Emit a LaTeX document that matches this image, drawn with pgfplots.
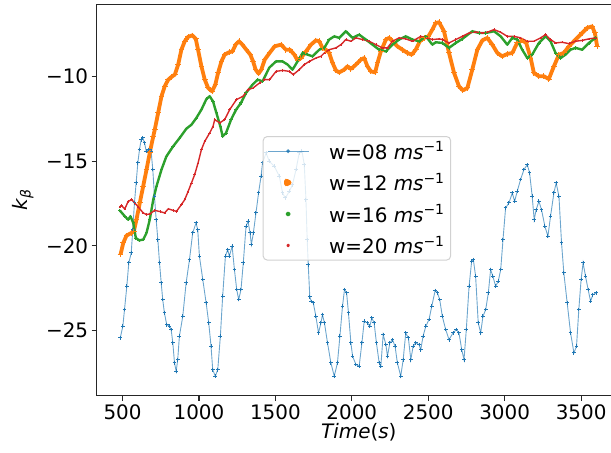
\documentclass[border=0pt]{standalone}
\usepackage{fontspec}
\setmainfont{DejaVu Sans}
\usepackage{pgfplots}
\pgfplotsset{compat=1.18}
\definecolor{c0}{HTML}{1F77B4}
\definecolor{c1}{HTML}{FF7F0E}
\definecolor{c2}{HTML}{2CA02C}
\definecolor{c3}{HTML}{D62728}
\newcommand{\bigfont}{\fontsize{20}{24}\selectfont}

\begin{document}
\begin{tikzpicture}
\begin{axis}[
  scale only axis, width=524.3bp, height=391bp,
  xmin=331, xmax=3761, ymin=-28.85, ymax=-5.75,
  xtick={500,1000,1500,2000,2500,3000,3500},
  xticklabels={500,1000,1500,2000,2500,3000,3500},
  ytick={-25,-20,-15,-10},
  yticklabels={−25,−20,−15,−10},
  tick pos=left, tick align=outside,
  major tick length=5bp,
  every tick/.style={black!85, line width=1.1bp},
  axis line style={black!85, line width=1.1bp},
  font=\bigfont,
  xlabel={\textit{Time}(\textit{s})},
  ylabel={\textit{k}\textsubscript{\textit{β}}},
  xlabel style={at={(axis description cs:0.5,0)}, yshift=-37bp, anchor=center},
  ylabel style={at={(axis description cs:-0.1411,0.5)}, anchor=center},
  legend cell align=left,
  legend style={at={(0.3166,0.664)}, anchor=north west, draw=black!18,
    line width=1bp, rounded corners=4bp, fill=white, fill opacity=0.8, text opacity=1,
    inner xsep=4bp, inner ysep=3bp, row sep=8.3bp, font=\bigfont,
    /tikz/every odd column/.append style={column sep=18bp}},
]
\coordinate (bl) at (rel axis cs:0,0);
\coordinate (tl) at (rel axis cs:0,1);

% w = 08
\addplot[c0, draw opacity=0.65, line width=0.9bp, mark=+, mark size=1.9bp,
  mark options={draw opacity=1, line width=1bp},
  legend image code/.code={
    \draw[c0, draw opacity=0.65, line width=0.9bp] (0bp,0bp) -- (41bp,0bp);
    \fill[c0] (20.5bp,0bp) circle (1.5bp);}]
coordinates {
(485,-25.44)(502,-24.75)(513,-23.76)(528,-22.39)(541,-21.00)(557,-20.41)
(567,-19.04)(578,-17.46)(589,-16.28)(600,-15.10)(611,-14.31)(622,-13.72)
(633,-13.62)(644,-13.92)(655,-14.41)(672,-14.31)(687,-14.41)(698,-15.49)
(709,-17.07)(720,-18.45)(731,-19.63)(742,-21.00)(753,-22.19)(763,-23.17)
(774,-23.96)(789,-24.65)(807,-24.75)(818,-24.94)(829,-25.73)(840,-26.91)
(851,-27.41)(861,-26.72)(872,-25.34)(894,-24.16)(916,-22.19)(938,-20.81)
(959,-19.23)(981,-18.64)(992,-19.04)(1003,-20.61)(1025,-21.99)(1047,-23.37)
(1064,-24.55)(1079,-25.93)(1090,-27.31)(1107,-27.70)(1123,-27.31)(1140,-25.34)
(1155,-22.98)(1173,-20.61)(1188,-20.22)(1199,-20.61)(1217,-20.02)(1232,-21.40)
(1247,-22.58)(1260,-23.17)(1275,-22.58)(1290,-21.00)(1308,-18.84)(1321,-18.55)
(1334,-19.23)(1343,-19.92)(1356,-19.23)(1373,-18.05)(1390,-16.87)(1406,-15.89)
(1416,-15.10)(1439,-14.51)(1460,-15.00)(1493,-15.30)(1526,-15.89)(1547,-16.87)
(1565,-17.17)(1591,-16.78)(1612,-16.38)(1635,-15.49)(1656,-14.51)(1674,-14.41)
(1689,-15.20)(1700,-17.27)(1708,-19.63)(1715,-21.11)(1725,-23.00)(1735,-23.29)
(1748,-23.37)(1765,-24.16)(1782,-25.14)(1798,-24.55)(1808,-24.06)(1821,-24.55)
(1841,-25.73)(1863,-26.91)(1885,-27.70)(1906,-26.91)(1922,-25.34)(1939,-23.57)
(1952,-22.58)(1966,-22.78)(1978,-23.96)(1994,-25.73)(2005,-26.52)(2027,-27.01)
(2048,-27.11)(2066,-25.73)(2081,-24.45)(2102,-24.55)(2118,-24.75)(2131,-24.25)
(2146,-24.55)(2161,-25.73)(2179,-26.91)(2190,-27.11)(2205,-25.24)(2223,-25.83)
(2233,-26.52)(2249,-25.73)(2266,-25.54)(2283,-25.93)(2298,-26.91)(2320,-27.70)
(2336,-26.72)(2353,-25.14)(2370,-25.44)(2386,-26.72)(2401,-25.93)(2418,-25.73)
(2440,-25.83)(2451,-26.13)(2466,-25.34)(2484,-24.75)(2505,-24.35)(2523,-23.57)
(2545,-22.64)(2560,-22.78)(2575,-23.17)(2592,-24.16)(2614,-24.94)(2636,-25.54)
(2662,-25.14)(2684,-24.94)(2701,-25.14)(2719,-26.13)(2734,-26.72)(2749,-24.94)
(2767,-22.39)(2784,-20.91)(2795,-20.81)(2810,-21.80)(2827,-24.55)(2843,-25.14)
(2858,-24.16)(2876,-23.76)(2893,-22.78)(2908,-21.40)(2923,-21.80)(2941,-22.39)
(2958,-22.09)(2974,-21.40)(2989,-19.63)(3006,-17.76)(3028,-17.46)(3050,-16.87)
(3065,-17.37)(3082,-16.78)(3104,-16.08)(3126,-15.49)(3148,-15.20)(3163,-15.69)
(3180,-17.07)(3193,-18.45)(3206,-17.86)(3224,-17.37)(3241,-17.86)(3263,-18.84)
(3283,-19.43)(3300,-18.25)(3322,-16.87)(3337,-16.28)(3355,-17.07)(3372,-19.82)
(3387,-21.60)(3409,-23.37)(3431,-25.14)(3453,-26.32)(3470,-25.93)(3485,-23.76)
(3500,-21.99)(3513,-21.00)(3529,-21.80)(3546,-22.58)(3562,-23.27)(3577,-22.88)
(3598,-22.78)
};
\addlegendentry{w=08 \textit{ms}\textsuperscript{−1}}

% w = 12
\addplot[c1, line width=3.8bp, line join=round, mark=+, mark size=2.8bp,
  mark options={line width=1bp},
  legend image code/.code={
    \fill[c1] (18.5bp,-2bp) -- (22.5bp,0bp) -- (18.5bp,2.2bp) -- cycle;}]
coordinates {
(487,-20.51)(505,-19.82)(526,-19.39)(559,-19.23)(574,-19.14)(591,-18.45)
(613,-17.46)(635,-16.48)(657,-15.49)(678,-14.51)(701,-13.53)(711,-13.13)
(733,-12.14)(755,-11.16)(776,-10.57)(799,-10.18)(820,-10.02)(842,-9.88)
(864,-9.29)(885,-8.41)(907,-7.91)(929,-7.65)(957,-7.56)(979,-7.77)
(994,-8.41)(1016,-9.39)(1038,-10.18)(1060,-10.67)(1086,-10.87)(1107,-10.47)
(1125,-9.78)(1147,-9.10)(1168,-8.70)(1197,-8.56)(1219,-8.51)(1240,-8.11)
(1262,-7.91)(1284,-8.11)(1310,-8.41)(1336,-8.70)(1354,-9.10)(1371,-9.59)
(1390,-9.82)(1408,-9.59)(1430,-9.00)(1462,-8.60)(1495,-8.21)(1537,-8.11)
(1569,-8.41)(1595,-8.41)(1624,-8.70)(1645,-9.04)(1667,-8.90)(1700,-8.51)
(1733,-8.11)(1765,-7.86)(1787,-7.91)(1808,-8.30)(1831,-8.41)(1852,-8.60)
(1874,-9.19)(1896,-9.63)(1917,-9.75)(1950,-9.59)(1972,-9.39)(1994,-9.55)
(2027,-9.29)(2059,-9.00)(2081,-8.90)(2102,-9.39)(2125,-9.69)(2153,-9.75)
(2168,-9.19)(2190,-8.51)(2223,-7.81)(2244,-7.71)(2266,-7.91)(2298,-8.21)
(2331,-8.41)(2364,-8.60)(2392,-8.70)(2418,-8.41)(2445,-7.91)(2473,-7.71)
(2501,-7.62)(2527,-7.22)(2549,-6.83)(2571,-6.79)(2603,-7.32)(2636,-8.60)
(2669,-9.78)(2701,-10.57)(2727,-10.81)(2756,-10.67)(2788,-9.59)(2821,-8.41)
(2854,-7.86)(2886,-7.71)(2919,-8.11)(2952,-8.60)(2984,-8.80)(3017,-8.66)
(3050,-8.60)(3082,-8.01)(3115,-7.86)(3141,-8.01)(3170,-8.90)(3191,-9.78)
(3224,-9.98)(3257,-9.98)(3289,-10.14)(3322,-9.39)(3355,-8.70)(3387,-8.60)
(3420,-8.21)(3464,-7.81)(3507,-7.42)(3540,-7.12)(3572,-7.03)(3590,-7.42)
(3605,-8.21)
};
\addlegendentry{w=12 \textit{ms}\textsuperscript{−1}}

% w = 16
\addplot[c2, line width=2.4bp, line join=round, mark=+, mark size=1.7bp,
  mark options={line width=0.8bp},
  legend image code/.code={\fill[c2] (20.5bp,0bp) circle (1.3bp);}]
coordinates {
(482,-17.90)(493,-18.02)(515,-18.25)(537,-18.45)(552,-18.25)(570,-18.64)
(587,-19.53)(609,-19.67)(635,-19.63)(657,-19.23)(678,-18.45)(701,-17.27)
(722,-16.48)(755,-15.49)(787,-14.71)(831,-14.12)(874,-13.62)(918,-13.07)
(951,-12.84)(983,-12.44)(1016,-11.95)(1049,-11.32)(1070,-11.16)(1092,-11.46)
(1114,-12.14)(1140,-12.94)(1155,-13.53)(1177,-13.33)(1210,-12.54)(1243,-11.95)
(1275,-11.55)(1308,-10.96)(1351,-10.47)(1384,-10.18)(1416,-10.28)(1460,-9.47)
(1504,-9.10)(1547,-9.10)(1580,-9.29)(1612,-9.59)(1645,-9.10)(1678,-8.60)
(1710,-8.70)(1743,-8.80)(1787,-8.41)(1820,-8.30)(1852,-7.81)(1885,-7.62)
(1918,-7.71)(1961,-7.32)(2005,-7.71)(2048,-7.52)(2092,-7.81)(2135,-8.11)
(2179,-8.41)(2223,-8.51)(2266,-8.11)(2309,-7.81)(2353,-7.62)(2396,-7.81)
(2440,-7.91)(2484,-7.62)(2527,-8.11)(2549,-7.97)(2592,-8.01)(2636,-8.30)
(2680,-8.01)(2723,-7.77)(2788,-7.32)(2832,-7.42)(2876,-7.42)(2930,-7.32)
(2974,-7.62)(3017,-8.11)(3050,-7.71)(3082,-7.81)(3115,-8.41)(3148,-8.90)
(3180,-8.70)(3224,-8.01)(3268,-7.62)(3300,-7.91)(3333,-8.60)(3366,-8.90)
(3398,-8.70)(3431,-8.41)(3464,-8.30)(3507,-8.41)(3551,-8.01)(3594,-7.71)
};
\addlegendentry{w=16 \textit{ms}\textsuperscript{−1}}

% w = 20
\addplot[c3, line width=1.4bp, line join=round, mark=+, mark size=1.2bp,
  mark options={line width=0.6bp},
  legend image code/.code={\fill[c3] (20.5bp,0bp) circle (1.1bp);}]
coordinates {
(482,-17.70)(493,-17.62)(515,-17.81)(537,-17.37)(559,-17.27)(580,-17.46)
(603,-17.70)(635,-18.05)(657,-18.15)(678,-18.11)(711,-17.90)(744,-17.97)
(776,-18.05)(799,-17.81)(831,-17.90)(853,-17.96)(885,-17.56)(907,-17.27)
(929,-16.78)(951,-16.28)(972,-15.79)(994,-15.10)(1016,-14.31)(1038,-13.82)
(1070,-13.33)(1092,-12.94)(1103,-12.54)(1136,-12.73)(1168,-12.54)(1201,-11.95)
(1245,-11.36)(1288,-11.16)(1321,-10.77)(1354,-10.67)(1397,-10.37)(1430,-10.18)
(1462,-10.18)(1504,-9.69)(1547,-9.63)(1591,-9.69)(1617,-9.88)(1656,-9.59)
(1689,-9.29)(1722,-9.10)(1765,-8.90)(1798,-8.80)(1820,-8.60)(1852,-8.41)
(1896,-8.30)(1929,-8.11)(1961,-7.81)(1994,-7.91)(2027,-7.71)(2070,-7.81)
(2113,-7.91)(2157,-8.11)(2200,-8.30)(2233,-8.30)(2266,-7.91)(2309,-7.71)
(2353,-7.77)(2396,-7.91)(2451,-7.62)(2494,-7.71)(2527,-7.81)(2571,-7.77)
(2592,-7.81)(2636,-8.01)(2680,-7.81)(2723,-7.62)(2767,-7.42)(2810,-7.36)
(2854,-7.42)(2886,-7.38)(2930,-7.22)(2974,-7.38)(3017,-7.62)(3061,-7.62)
(3104,-7.71)(3148,-7.91)(3191,-7.91)(3235,-7.71)(3268,-7.52)(3300,-7.81)
(3333,-8.01)(3376,-7.97)(3420,-8.05)(3464,-7.91)(3507,-7.86)(3551,-7.77)
(3594,-7.71)
};
\addlegendentry{w=20 \textit{ms}\textsuperscript{−1}}
\end{axis}
\pgfresetboundingbox
\path[use as bounding box] ([shift={(-96.7bp,-57.3bp)}]bl) rectangle ([shift={(514.3bp,4.7bp)}]tl);
\end{tikzpicture}
\end{document}
